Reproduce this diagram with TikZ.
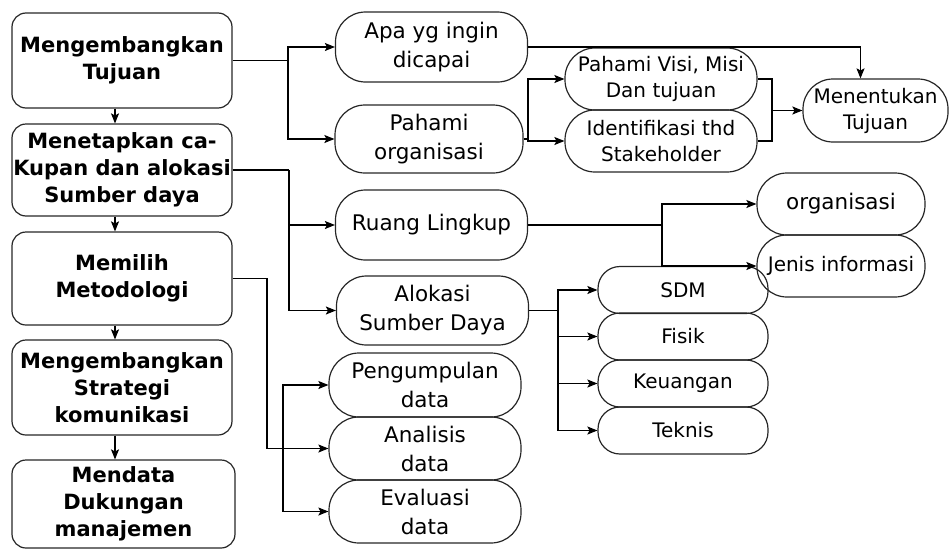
\documentclass[tikz,border=0pt]{standalone}
\usepackage{fontspec}
\setmainfont{DejaVu Sans}
\usetikzlibrary{arrows.meta}
\tikzstyle{tb}=[shape=rectangle,
                draw=black!85,
                rounded corners=14pt,
                minimum width=220pt,
                line width=1.2pt,
                inner xsep=1pt,
                align=center,
                font=\fontsize{21}{27}\selectfont\bfseries]
\tikzstyle{ob}=[shape=rectangle,
                draw=black!85,
                rounded corners=30pt,
                minimum width=192pt,
                minimum height=69pt,
                line width=1.2pt,
                inner xsep=0pt,
                align=center,
                font=\fontsize{21.5}{29}\selectfont]
\tikzstyle{rb}=[ob,
                minimum height=62pt,
                font=\fontsize{20}{26}\selectfont]
\tikzstyle{sb}=[rb,
                rounded corners=22pt,
                minimum width=170pt,
                minimum height=47pt]

\begin{document}
\begin{tikzpicture}[x=1pt,y=-1pt,>={Stealth[length=10pt,width=8pt,inset=2pt]},line width=1.1pt]
\useasboundingbox (0,0) rectangle (950,549);

% tahapan
\node[tb,minimum height=95pt] (b1) at (122,60.5)  {Mengembangkan\\Tujuan};
\node[tb,minimum height=92pt] (b2) at (122,170)   {Menetapkan ca-\\Kupan dan alokasi\\Sumber daya};
\node[tb,minimum height=93pt] (b3) at (122,278.5) {Memilih\\Metodologi};
\node[tb,minimum height=95pt] (b4) at (122,387.5) {Mengembangkan\\Strategi\\komunikasi};
\node[tb,minimum height=88pt,minimum width=223pt] (b5) at (123.5,504) {Mendata\\Dukungan\\manajemen};

% kegiatan
\node[ob,minimum height=70pt] (apa) at (431.5,47) {Apa yg ingin\\dicapai};
\node[ob,minimum width=188pt,minimum height=68pt] (porg) at (429,139) {Pahami\\organisasi};
\node[ob,minimum height=70pt] (ruang) at (431.5,225) {Ruang Lingkup};
\node[ob] (alok) at (432.5,310.5) {Alokasi\\Sumber Daya};
\node[ob,minimum height=64pt] (peng) at (425,385)   {Pengumpulan\\data};
\node[ob,minimum height=63pt] (anal) at (425,448.5) {Analisis\\data};
\node[ob,minimum height=63pt] (eval) at (425,511.5) {Evaluasi\\data};

% rincian
\node[rb] (visi) at (661,79)  {Pahami Visi, Misi\\Dan tujuan};
\node[rb] (iden) at (661,141) {Identifikasi thd\\Stakeholder};
\node[rb,minimum width=145pt,minimum height=63pt] (ment) at (875.5,110.5) {Menentukan\\Tujuan};
\node[rb,minimum width=168pt,font=\fontsize{21.5}{26}\selectfont] (orgn) at (841,204) {organisasi};
\node[rb,minimum width=168pt] (jenis) at (841,266) {Jenis informasi};
\node[sb] (sdm)   at (683,290)   {SDM};
\node[sb] (fisik) at (683,336.5) {Fisik};
\node[sb] (keu)   at (683,383.5) {Keuangan};
\node[sb] (tek)   at (683,430.5) {Teknis};

% titik cabang
\coordinate (j1) at (288,60.5);
\coordinate (j2) at (289,170);
\coordinate (j3) at (267,278.5);
\coordinate (j3b) at (283,448.5);
\coordinate (j4) at (528,139);
\coordinate (j5) at (772,110.5);
\coordinate (j6) at (662,225);
\coordinate (j7) at (558,310.5);

% alur tahapan
\draw[->] ([xshift=-7pt]b1.south) -- ([xshift=-7pt]b2.north);
\draw[->] ([xshift=-7pt]b2.south) -- ([xshift=-7pt]b3.north);
\draw[->] ([xshift=-7pt]b3.south) -- ([xshift=-7pt]b4.north);
\draw[->] ([xshift=-7pt]b4.south) -- ([xshift=-7pt]b4.south |- b5.north);

% cabang
\draw (b1.east) -- (j1);
\draw[->] (j1) |- (apa.west);
\draw[->] (j1) |- (porg.west);
\draw (b2.east) -- (j2);
\draw[->] (j2) |- (ruang.west);
\draw[->] (j2) |- (alok.west);
\draw (b3.east) -- (j3) |- (j3b);
\draw[->] (j3b) |- (peng.west);
\draw[->] (j3b) -- (anal.west);
\draw[->] (j3b) |- (eval.west);
\draw (porg.east) -- (j4);
\draw[->] (j4) |- (visi.west);
\draw[->] (j4) |- (iden.west);
\draw[->] (apa.east) -| ([xshift=-15pt]ment.north);
\draw (visi.east) -| (j5);
\draw (iden.east) -| (j5);
\draw[->] (j5) -- (ment.west);
\draw (ruang.east) -- (j6);
\draw[->] (j6) |- (orgn.west);
\draw[->] (j6) |- (jenis.west);
\draw (alok.east) -- (j7);
\draw[->] (j7) |- (sdm.west);
\draw[->] (j7) |- (fisik.west);
\draw[->] (j7) |- (keu.west);
\draw[->] (j7) |- (tek.west);
\end{tikzpicture}
\end{document}
